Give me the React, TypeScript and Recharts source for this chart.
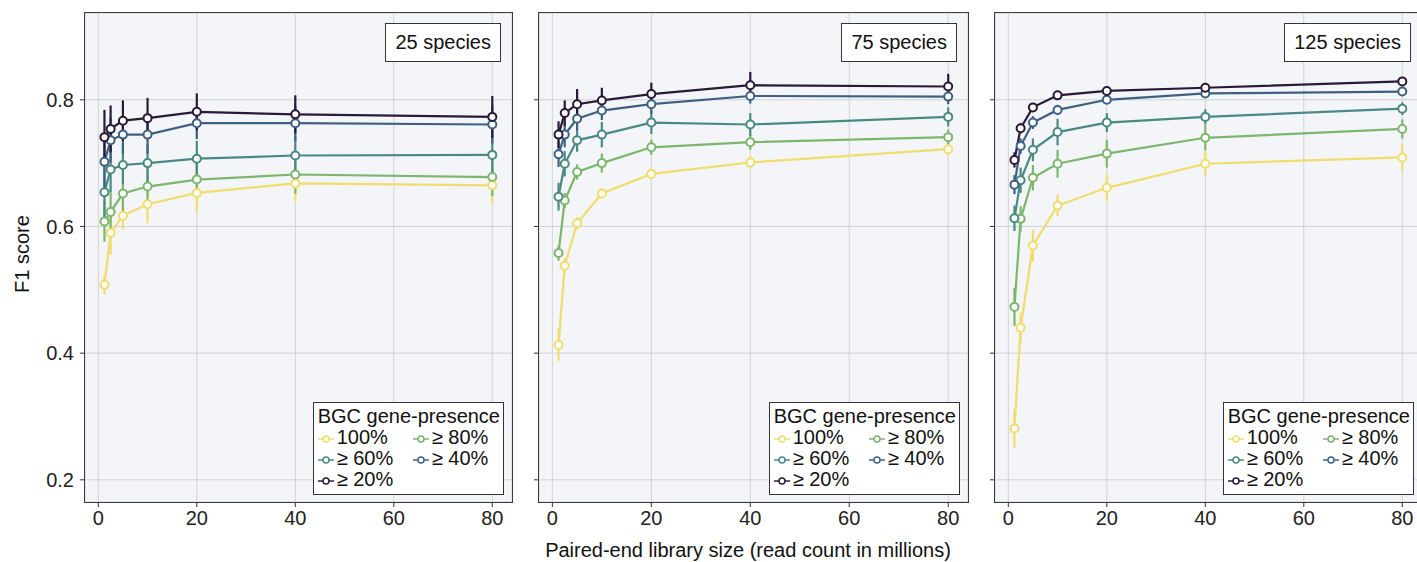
import { LineChart, Line, XAxis, YAxis, CartesianGrid, ErrorBar } from "recharts"

// library sizes (millions of read pairs)
const libSize = [1.25, 2.5, 5, 10, 20, 40, 80]
const seriesNames = ["100%", "≥ 80%", "≥ 60%", "≥ 40%", "≥ 20%"]
const seriesColors = ["#f1dd6b", "#7db66d", "#4b8a84", "#3e6183", "#2a1a37"]
const speciesLabels = ["25 species", "75 species", "125 species"]
const xTicks = [0, 20, 40, 60, 80]
const yTicks = [0.2, 0.4, 0.6, 0.8]

// 25 species
const sp25_100 = [0.508, 0.59, 0.617, 0.635, 0.653, 0.668, 0.665]
const sp25_80 = [0.608, 0.623, 0.652, 0.663, 0.674, 0.682, 0.678]
const sp25_60 = [0.654, 0.69, 0.697, 0.7, 0.707, 0.712, 0.713]
const sp25_40 = [0.702, 0.736, 0.745, 0.745, 0.763, 0.763, 0.761]
const sp25_20 = [0.741, 0.754, 0.767, 0.771, 0.781, 0.777, 0.773]
const sp25_100err = [0.015, 0.035, 0.022, 0.03, 0.03, 0.028, 0.028]
const sp25_80err = [0.032, 0.035, 0.03, 0.028, 0.028, 0.03, 0.03]
const sp25_60err = [0.04, 0.035, 0.03, 0.03, 0.028, 0.03, 0.03]
const sp25_40err = [0.04, 0.035, 0.03, 0.03, 0.025, 0.028, 0.03]
const sp25_20err = [0.043, 0.037, 0.032, 0.032, 0.029, 0.03, 0.033]

// 75 species
const sp75_100 = [0.413, 0.538, 0.605, 0.652, 0.683, 0.701, 0.722]
const sp75_80 = [0.558, 0.641, 0.686, 0.7, 0.725, 0.733, 0.741]
const sp75_60 = [0.647, 0.699, 0.736, 0.745, 0.764, 0.761, 0.773]
const sp75_40 = [0.714, 0.745, 0.77, 0.783, 0.793, 0.806, 0.805]
const sp75_20 = [0.745, 0.779, 0.793, 0.799, 0.809, 0.823, 0.821]
const sp75_100err = [0.025, 0.012, 0.01, 0.008, 0.008, 0.01, 0.01]
const sp75_80err = [0.012, 0.012, 0.012, 0.015, 0.012, 0.012, 0.012]
const sp75_60err = [0.022, 0.02, 0.018, 0.02, 0.018, 0.018, 0.015]
const sp75_40err = [0.02, 0.02, 0.018, 0.015, 0.015, 0.012, 0.012]
const sp75_20err = [0.021, 0.02, 0.024, 0.02, 0.018, 0.021, 0.02]

// 125 species
const sp125_100 = [0.281, 0.44, 0.57, 0.633, 0.661, 0.699, 0.709]
const sp125_80 = [0.473, 0.612, 0.677, 0.699, 0.715, 0.74, 0.754]
const sp125_60 = [0.613, 0.673, 0.721, 0.749, 0.764, 0.773, 0.786]
const sp125_40 = [0.666, 0.727, 0.764, 0.784, 0.8, 0.81, 0.813]
const sp125_20 = [0.705, 0.755, 0.788, 0.807, 0.814, 0.819, 0.829]
const sp125_100err = [0.03, 0.024, 0.025, 0.017, 0.021, 0.02, 0.02]
const sp125_80err = [0.03, 0.02, 0.02, 0.022, 0.022, 0.02, 0.015]
const sp125_60err = [0.02, 0.02, 0.018, 0.021, 0.015, 0.012, 0.01]
const sp125_40err = [0.015, 0.012, 0.01, 0.008, 0.006, 0.006, 0.005]
const sp125_20err = [0.012, 0.008, 0.006, 0.005, 0.004, 0.004, 0.004]

const panelMeans = [
  [sp25_100, sp25_80, sp25_60, sp25_40, sp25_20],
  [sp75_100, sp75_80, sp75_60, sp75_40, sp75_20],
  [sp125_100, sp125_80, sp125_60, sp125_40, sp125_20],
]
const panelErrs = [
  [sp25_100err, sp25_80err, sp25_60err, sp25_40err, sp25_20err],
  [sp75_100err, sp75_80err, sp75_60err, sp75_40err, sp75_20err],
  [sp125_100err, sp125_80err, sp125_60err, sp125_40err, sp125_20err],
]

const FONT = "'Liberation Sans', Arial, sans-serif"
const FS = 20
const TOP = 13
const PLOT_H = 489
const CHART_H = 562

// plot boxes: chart left, y-axis width, plot width, right margin
const layout = [
  { left: 0, axisW: 85, plotW: 427, right: 8 },
  { left: 525, axisW: 14, plotW: 429, right: 8 },
  { left: 981, axisW: 14, plotW: 427, right: 0 },
]

function LegendIcon({ color }: { color: string }) {
  return (
    <svg width={16} height={12} style={{ marginRight: 3, verticalAlign: "middle" }}>
      <line x1={0} y1={6} x2={16} y2={6} stroke={color} strokeWidth={1.5} />
      <circle cx={8} cy={6} r={3} fill="#fff" stroke={color} strokeWidth={1.5} />
    </svg>
  )
}

function Panel({ idx }: { idx: number }) {
  const { left, axisW, plotW, right } = layout[idx]
  const means = panelMeans[idx]
  const errs = panelErrs[idx]
  const rows = libSize.map((x, i) => {
    const row: Record<string, number> = { x }
    means.forEach((m, s) => {
      row["s" + s] = m[i]
      row["e" + s] = errs[s][i]
    })
    return row
  })
  const plotLeft = left + axisW
  const plotRight = plotLeft + plotW

  return (
    <>
      <div style={{ position: "absolute", left, top: 0 }}>
        <LineChart
          width={axisW + plotW + right}
          height={CHART_H}
          data={rows}
          margin={{ top: TOP, right, bottom: 30, left: 0 }}
        >
          <CartesianGrid stroke="#d3d3d3" strokeWidth={1} fill="#f3f5f8" />
          <XAxis
            dataKey="x"
            type="number"
            domain={[-2.7, 84]}
            ticks={xTicks}
            allowDataOverflow
            height={30}
            axisLine={false}
            tickSize={5}
            tickMargin={4}
            tickLine={{ stroke: "#333" }}
            tick={{ fill: "#222", fontSize: FS, fontFamily: FONT }}
          />
          <YAxis
            type="number"
            domain={[0.165, 0.937]}
            ticks={yTicks}
            allowDataOverflow
            width={axisW}
            axisLine={false}
            tickSize={5}
            tickMargin={6}
            tickLine={{ stroke: "#333" }}
            tickFormatter={(v: number) => (idx === 0 ? v.toFixed(1) : "")}
            tick={{ fill: "#222", fontSize: FS, fontFamily: FONT }}
          />
          {seriesNames.map((name, s) => (
            <Line
              key={name}
              name={name}
              dataKey={"s" + s}
              stroke={seriesColors[s]}
              strokeWidth={2.2}
              dot={{ r: 4, fill: "#fff", stroke: seriesColors[s], strokeWidth: 2 }}
              isAnimationActive={false}
            >
              <ErrorBar dataKey={"e" + s} width={0} stroke={seriesColors[s]} strokeWidth={2.2} direction="y" />
            </Line>
          ))}
        </LineChart>
      </div>
      {/* plot frame */}
      <div
        style={{
          position: "absolute",
          left: plotLeft - 1,
          top: TOP - 1,
          width: plotW,
          height: PLOT_H,
          border: "1.5px solid #3a3a3a",
          pointerEvents: "none",
        }}
      />
      {/* species tag */}
      <div
        style={{
          position: "absolute",
          right: 1417 - (plotRight - 11),
          top: TOP + 10,
          border: "1px solid #333",
          background: "#fff",
          padding: "8px 9px",
          fontSize: FS,
          lineHeight: "21px",
          fontFamily: FONT,
          color: "#111",
          whiteSpace: "nowrap",
        }}
      >
        {speciesLabels[idx]}
      </div>
      {/* legend */}
      <div
        style={{
          position: "absolute",
          right: 1417 - (plotRight - 8),
          top: TOP + PLOT_H - 100,
          border: "1px solid #333",
          background: "#fff",
          padding: "3px 3px 4px 4px",
          fontSize: FS,
          lineHeight: "21px",
          fontFamily: FONT,
          color: "#111",
          whiteSpace: "nowrap",
        }}
      >
        <div>BGC gene-presence</div>
        <div style={{ display: "grid", gridTemplateColumns: "auto auto", columnGap: 8 }}>
          {seriesNames.map((name, s) => (
            <div key={name}>
              <LegendIcon color={seriesColors[s]} />
              {name}
            </div>
          ))}
        </div>
      </div>
    </>
  )
}

export default function App() {
  return (
    <div
      style={{
        position: "absolute",
        left: 0,
        top: 0,
        width: 1417,
        height: 562,
        overflow: "hidden",
        background: "#fff",
        fontFamily: FONT,
      }}
    >
      {[0, 1, 2].map((i) => (
        <Panel key={i} idx={i} />
      ))}
      <div
        style={{
          position: "absolute",
          left: 22,
          top: 254,
          transform: "translate(-50%, -50%) rotate(-90deg)",
          fontSize: FS,
          color: "#111",
          whiteSpace: "nowrap",
        }}
      >
        F1 score
      </div>
      <div
        style={{
          position: "absolute",
          left: 748,
          top: 550,
          transform: "translate(-50%, -50%)",
          fontSize: FS,
          color: "#111",
          whiteSpace: "nowrap",
        }}
      >
        Paired-end library size (read count in millions)
      </div>
    </div>
  )
}
